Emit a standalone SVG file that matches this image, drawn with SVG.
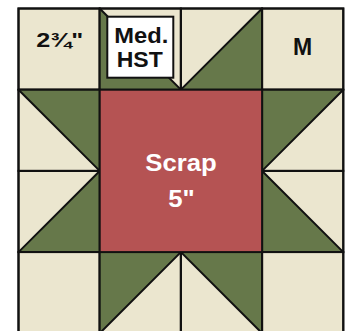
<svg xmlns="http://www.w3.org/2000/svg" width="349" height="331" viewBox="0 0 349 331">
<defs>
<style>
.cream{fill:#ebe6cf;stroke:#111;stroke-width:2}
.green{fill:#66784a;stroke:none}
.red{fill:#b55353;stroke:#111;stroke-width:2}
.seam{stroke:#111;stroke-width:2;fill:none;stroke-linecap:round}
.lbl{font-family:"Liberation Sans",Arial,sans-serif;font-weight:bold;text-anchor:middle}
.dark{fill:#111}
.light{fill:#ffffff}
</style>
</defs>
<rect width="349" height="331" fill="#ffffff"/>
<g id="c00"><rect class="cream" x="18.5" y="8.5" width="81.2" height="81.2"/><text class="lbl dark" x="59.7" y="47" font-size="21" textLength="47" lengthAdjust="spacingAndGlyphs">2¾"</text></g>
<g id="c10"><rect class="cream" x="99.7" y="8.5" width="81.2" height="81.2"/><polygon class="green" points="99.7,8.5 99.7,89.7 180.9,89.7"/></g>
<g id="c20"><rect class="cream" x="180.9" y="8.5" width="81.2" height="81.2"/><polygon class="green" points="262.1,8.5 262.1,89.7 180.9,89.7"/></g>
<g id="c30"><rect class="cream" x="262.1" y="8.5" width="81.2" height="81.2"/><text class="lbl dark" x="302.7" y="55" font-size="23">M</text></g>
<g id="c01"><rect class="cream" x="18.5" y="89.7" width="81.2" height="81.2"/><polygon class="green" points="18.5,89.7 99.7,89.7 99.7,170.9"/></g>
<g id="c02"><rect class="cream" x="18.5" y="170.9" width="81.2" height="81.2"/><polygon class="green" points="99.7,170.9 99.7,252.1 18.5,252.1"/></g>
<g id="c31"><rect class="cream" x="262.1" y="89.7" width="81.2" height="81.2"/><polygon class="green" points="262.1,89.7 343.3,89.7 262.1,170.9"/></g>
<g id="c32"><rect class="cream" x="262.1" y="170.9" width="81.2" height="81.2"/><polygon class="green" points="262.1,170.9 262.1,252.1 343.3,252.1"/></g>
<g id="c03"><rect class="cream" x="18.5" y="252.1" width="81.2" height="81.2"/></g>
<g id="c13"><rect class="cream" x="99.7" y="252.1" width="81.2" height="81.2"/><polygon class="green" points="99.7,252.1 180.9,252.1 99.7,333.3"/></g>
<g id="c23"><rect class="cream" x="180.9" y="252.1" width="81.2" height="81.2"/><polygon class="green" points="180.9,252.1 262.1,252.1 262.1,333.3"/></g>
<g id="c33"><rect class="cream" x="262.1" y="252.1" width="81.2" height="81.2"/></g>
<g id="seams">
<path class="seam" d="M18.5,8.5H343.3V333.3H18.5Z M99.7,8.5V333.3 M180.9,8.5V89.7 M180.9,252.1V333.3 M262.1,8.5V333.3 M18.5,89.7H343.3 M18.5,252.1H343.3 M18.5,170.9H99.7 M262.1,170.9H343.3"/>
<path class="seam" d="M99.7,8.5L180.9,89.7L262.1,8.5 M18.5,89.7L99.7,170.9L18.5,252.1 M343.3,89.7L262.1,170.9L343.3,252.1 M99.7,333.3L180.9,252.1L262.1,333.3"/>
</g>
<g id="center"><rect class="red" x="99.7" y="89.7" width="162.4" height="162.4"/><text class="lbl light" x="181" y="171" font-size="24.5" textLength="71.5" lengthAdjust="spacingAndGlyphs">Scrap</text><text class="lbl light" x="181.5" y="206.7" font-size="23" textLength="26.5" lengthAdjust="spacingAndGlyphs">5"</text></g>
<g id="medhst"><rect x="107.3" y="16.7" width="66" height="61" fill="#ffffff" stroke="#111" stroke-width="2"/><text class="lbl dark" x="141.3" y="43.3" font-size="21.5" textLength="54" lengthAdjust="spacingAndGlyphs">Med.</text><text class="lbl dark" x="139.7" y="66.7" font-size="22" textLength="46" lengthAdjust="spacingAndGlyphs">HST</text></g>
</svg>
